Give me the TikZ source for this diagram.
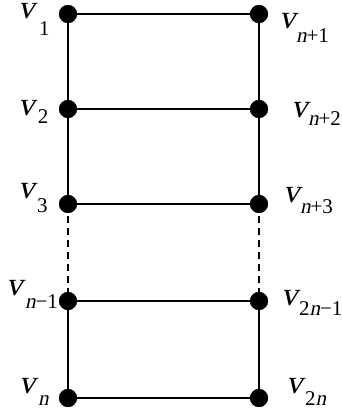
\documentclass[tikz,border=0pt]{standalone}
\usepackage{fontspec}
\setmainfont{Liberation Serif}
\newfontfamily\slfam{Liberation Serif}[FakeSlant=0.21]
\newcommand\nn{{\slfam n}}
\newcommand\vlab[3]{\makebox[0pt][l]{\fontsize{33}{33}\selectfont\slfam v}\hspace*{#1pt}\raisebox{-#2pt}{\fontsize{21}{21}\selectfont #3}}
\begin{document}
\begin{tikzpicture}[x=1pt,y=-1pt,
  vtx/.style={circle,fill=black,draw=none,minimum size=18pt,inner sep=0pt},
  edge/.style={line width=1.8pt},
  gap/.style={line width=1.8pt,dash pattern=on 7pt off 5pt},
  lab/.style={anchor=base west,inner sep=0pt,outer sep=0pt}]
\useasboundingbox (0,0) rectangle (342,410);
\node[vtx] (a1) at (68,14) {};
\node[vtx] (a2) at (68,109) {};
\node[vtx] (a3) at (68,204) {};
\node[vtx] (a4) at (68,301) {};
\node[vtx] (a5) at (68,398) {};
\node[vtx] (b1) at (259,14) {};
\node[vtx] (b2) at (259,109) {};
\node[vtx] (b3) at (259,204) {};
\node[vtx] (b4) at (259,301) {};
\node[vtx] (b5) at (259,398) {};
\foreach \i in {1,...,5} {\draw[edge] (a\i.center) -- (b\i.center);}
\draw[edge] (a1.center) -- (a2.center) -- (a3.center);
\draw[gap] (a3.center) -- (a4.center);
\draw[edge] (a4.center) -- (a5.center);
\draw[edge] (b1.center) -- (b2.center) -- (b3.center);
\draw[gap] (b3.center) -- (b4.center);
\draw[edge] (b4.center) -- (b5.center);
\foreach \i in {1,...,5} {\node[vtx] at (a\i) {}; \node[vtx] at (b\i) {};}
\node[lab] (la1) at (18,18) {\vlab{21}{17}{1}};
\node[lab] (la2) at (18,115) {\vlab{20}{8}{2}};
\node[lab] (la3) at (18,198) {\vlab{19}{14}{3}};
\node[lab] (la4) at (6,295) {\vlab{19}{13}{\nn−1}};
\node[lab] (la5) at (19,393) {\vlab{19}{12}{\nn}};
\node[lab] (lb1) at (279,28) {\vlab{17}{14}{\nn+1}};
\node[lab] (lb2) at (291,117) {\vlab{17}{8}{\nn+2}};
\node[lab] (lb3) at (283,202) {\vlab{17}{11}{\nn+3}};
\node[lab] (lb4) at (281,305) {\vlab{18}{10}{2\nn−1}};
\node[lab] (lb5) at (286,393) {\vlab{19}{12}{2\nn}};
\end{tikzpicture}
\end{document}
